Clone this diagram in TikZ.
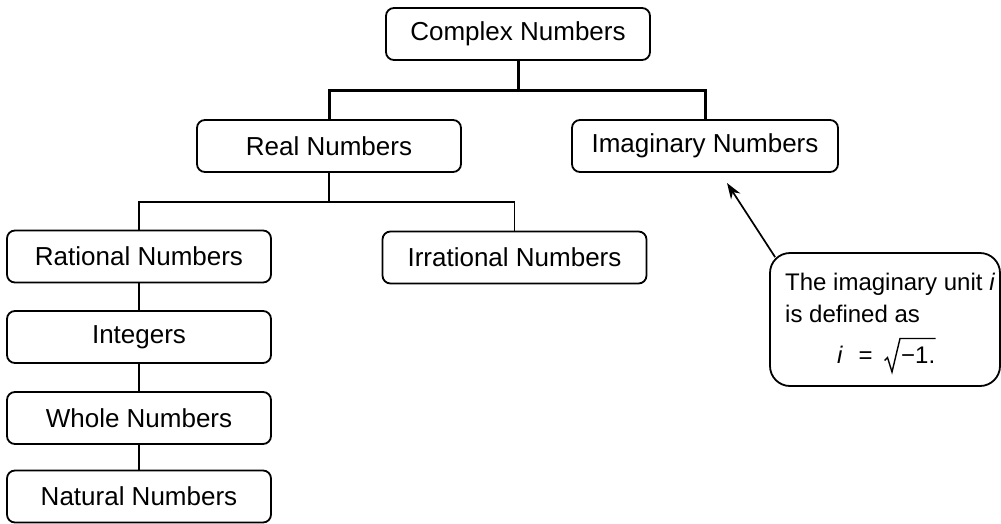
\documentclass[tikz,border=0pt]{standalone}
\usepackage{fontspec}
\setmainfont{Liberation Sans}
\usetikzlibrary{arrows.meta}
\tikzset{
  numbox/.style={draw=black, line width=1.8pt, rounded corners=8pt, minimum width=264pt, minimum height=52pt, inner sep=0pt, font=\fontsize{26}{30}\selectfont, text=black},
  callbox/.style={draw=black, line width=1.8pt, rounded corners=20pt, minimum width=230pt, minimum height=133pt, inner sep=0pt},
  calltext/.style={font=\fontsize{24}{32}\selectfont, inner sep=0pt, anchor=base west},
  radical/.style={line width=1.4pt, line join=miter},
  thickline/.style={line width=3pt},
  thinline/.style={line width=1.7pt},
  pointer/.style={line width=1.7pt, -{Stealth[length=16pt, width=11pt]}}
}
\begin{document}
\begin{tikzpicture}[x=1pt, y=-1pt]
\useasboundingbox (0,0) rectangle (1001,523);
\node[numbox] (complex) at (518,34) {Complex Numbers};
\node[numbox] (real) at (329,146) {Real Numbers};
\node[numbox, minimum width=266pt] (imag) at (705,146) {Imaginary Numbers};
\node[numbox] (rational) at (139,256.5) {Rational Numbers};
\node[numbox] (irrational) at (514.5,257.5) {Irrational Numbers};
\node[numbox] (integers) at (139,337) {Integers};
\node[numbox] (whole) at (139,418) {Whole Numbers};
\node[numbox] (natural) at (139,496.5) {Natural Numbers};
\coordinate (bar1) at (518,90);
\coordinate (bar2) at (329,202);
\draw[thickline] (complex.south) -- (bar1);
\draw[thickline] (real.north) |- (bar1) -| (imag.north);
\draw[thinline] (real.south) -- (bar2);
\draw[thinline] (rational.north) |- (bar2) -| (irrational.north);
\draw[thinline] (rational.south) -- (integers.north);
\draw[thinline] (integers.south) -- (whole.north);
\draw[thinline] (whole.south) -- (natural.north);
\node[callbox] (callout) at (885,319.5) {};
\node[calltext] (line1) at (785,290) {The imaginary unit \textit{i}};
\node[calltext] (line2) at (785,322) {is defined as};
\node[calltext] (line3) at (837,363) {\textit{i}\hspace*{15.5pt}=};
\node[calltext] (radicand) at (901,363) {−1.};
\draw[radical] (884.5,360.5) -- (887.5,357.5) -- (892,372) -- (900,338.5) -- (935.5,338.5);
\coordinate (tip) at (727,183);
\draw[pointer] ([shift={(6,5)}]callout.north west) -- (tip);
\end{tikzpicture}
\end{document}
